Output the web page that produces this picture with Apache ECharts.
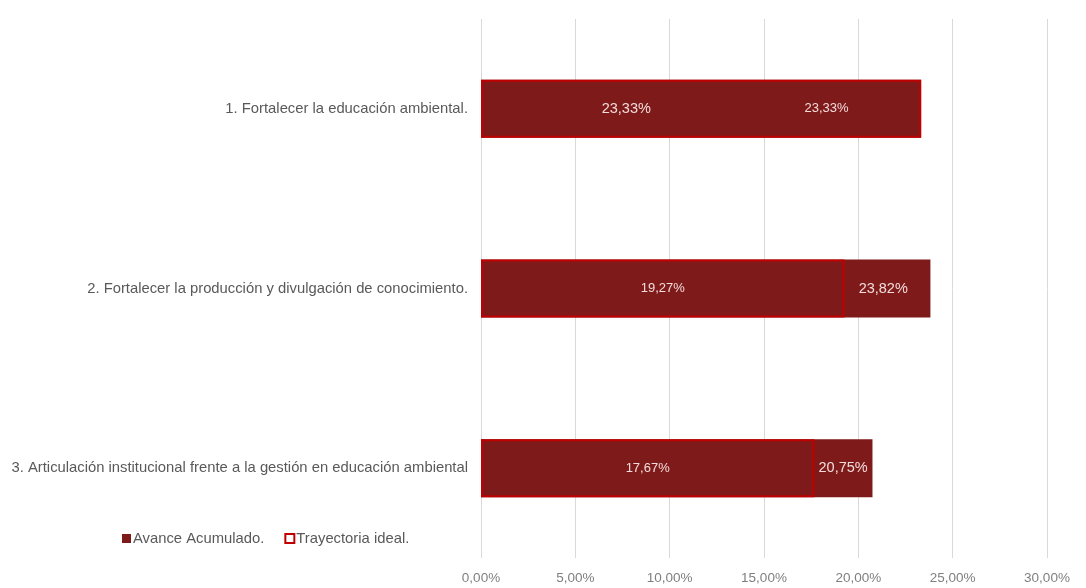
<!DOCTYPE html>
<html>
<head>
<meta charset="utf-8">
<script src="https://cdn.jsdelivr.net/npm/echarts@6/dist/echarts.min.js"></script>
<style>
  html, body { margin: 0; padding: 0; background: #fff; }
  #main { width: 1086px; height: 588px; }
</style>
</head>
<body>
<div id="main"></div>
<script>
// datos
var categorias = [
  '1. Fortalecer la educación ambiental.',
  '2. Fortalecer la producción y divulgación de conocimiento.',
  '3. Articulación institucional frente a la gestión en educación ambiental'
];
var avanceAcumulado = [23.33, 23.82, 20.75];
var trayectoriaIdeal = [23.33, 19.27, 17.67];
var ticksX = [0, 5, 10, 15, 20, 25, 30];

// posiciones de las etiquetas (estilo, no datos)
var posAvance = [['33%', '50%'], ['89.5%', '50%'], ['92.5%', '50%']];
var posIdeal = [['78.5%', '50%'], ['50%', '50%'], ['50%', '50%']];

var fmt = function (v) {
  return v.toFixed(2).replace('.', ',') + '%';
};

var chartDom = document.getElementById('main');
var myChart = echarts.init(chartDom, null, { renderer: 'canvas' });

var option = {
  backgroundColor: '#fff',
  animation: false,
  textStyle: { fontFamily: 'Liberation Sans, Arial, sans-serif' },
  grid: { left: 481, right: 39, top: 19, bottom: 30, containLabel: false },
  legend: {
    left: 117,
    top: 526,
    itemWidth: 9,
    itemHeight: 9,
    itemGap: 20,
    textStyle: { color: '#595959', fontSize: 14.8, padding: [0, 0, 0, -3] },
    data: [
      { name: 'Avance Acumulado.', icon: 'rect', itemStyle: { color: '#7f1a1a', borderWidth: 0 } },
      { name: 'Trayectoria ideal.', icon: 'rect', itemStyle: { color: '#fff', borderColor: '#c00000', borderWidth: 2 } }
    ]
  },
  xAxis: {
    type: 'value',
    min: ticksX[0],
    max: ticksX[ticksX.length - 1],
    interval: 5,
    axisLine: { show: false },
    axisTick: { show: false },
    splitLine: { lineStyle: { color: '#d9d9d9', width: 1 } },
    axisLabel: {
      color: '#7f7f7f',
      fontSize: 13.5,
      margin: 13,
      formatter: function (v) { return fmt(v); }
    }
  },
  yAxis: {
    type: 'category',
    inverse: true,
    data: categorias,
    axisLine: { show: false },
    axisTick: { show: false },
    axisLabel: { color: '#595959', fontSize: 14.8, margin: 13 }
  },
  series: [
    {
      name: 'Avance Acumulado.',
      type: 'bar',
      barWidth: 58,
      barGap: '-100%',
      z: 2,
      itemStyle: { color: '#7f1a1a' },
      data: avanceAcumulado.map(function (v, i) {
        return {
          value: v,
          label: {
            show: true,
            position: posAvance[i],
            align: 'center',
            verticalAlign: 'middle',
            color: '#f2dcdb',
            fontSize: 14.5,
            formatter: function (p) { return fmt(p.value); }
          }
        };
      })
    },
    {
      name: 'Trayectoria ideal.',
      type: 'bar',
      barWidth: 58,
      z: 3,
      itemStyle: { color: 'rgba(0,0,0,0)', borderColor: '#c00000', borderWidth: 2 },
      data: trayectoriaIdeal.map(function (v, i) {
        return {
          value: v,
          label: {
            show: true,
            position: posIdeal[i],
            align: 'center',
            verticalAlign: 'middle',
            color: '#f2dcdb',
            fontSize: 13,
            formatter: function (p) { return fmt(p.value); }
          }
        };
      })
    }
  ]
};

option && myChart.setOption(option, true);
window.onresize = function () {
  myChart.resize();
};
</script>
</body>
</html>
